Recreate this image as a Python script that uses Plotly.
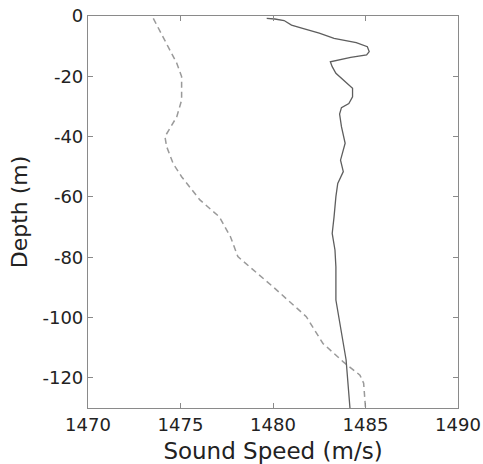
import plotly.graph_objects as go

# Measured profile (solid)
measured_speed = [1479.66, 1480.1, 1480.6, 1481.0, 1481.6, 1482.5, 1483.3, 1484.5, 1485.1, 1485.2,
                  1485.06, 1484.2, 1483.1, 1483.2, 1483.4, 1483.8, 1484.1, 1484.3, 1484.3, 1484.1,
                  1483.7, 1483.6, 1483.7, 1483.9, 1483.65, 1483.8, 1483.5, 1483.4, 1483.3, 1483.2,
                  1483.35, 1483.4, 1483.4, 1483.8, 1483.95, 1484.16]
measured_depth = [-0.8, -1.0, -1.5, -3.0, -4.1, -5.7, -7.4, -8.8, -10.2, -11.8,
                  -12.9, -13.7, -15.2, -16.8, -19.0, -21.2, -22.9, -24.0, -26.8, -29.0,
                  -30.4, -32.5, -36.7, -42.2, -47.8, -51.6, -55.5, -59.9, -66.6, -72.1,
                  -77.6, -83.2, -94.2, -109.7, -114.0, -130.0]

# Model profile (dashed)
model_speed = [1473.53, 1474.25, 1474.8, 1475.06, 1475.06, 1474.8, 1474.16, 1474.25, 1474.6, 1475.06,
               1476.05, 1477.1, 1477.7, 1478.1, 1478.76, 1480.0, 1481.8, 1482.7, 1483.8, 1484.7,
               1484.9, 1485.0]
model_depth = [-0.8, -9.1, -15.7, -20.1, -27.9, -33.4, -40.0, -43.3, -48.9, -53.3,
               -61.0, -66.6, -73.2, -79.8, -83.2, -89.8, -99.7, -108.6, -114.7, -119.1,
               -121.8, -130.0]

x_ticks = [1470, 1475, 1480, 1485, 1490]
y_ticks = [0, -20, -40, -60, -80, -100, -120]

FONT = "DejaVu Sans, Arial"

fig = go.Figure()
fig.add_trace(go.Scatter(x=model_speed, y=model_depth, mode="lines",
                         line=dict(color="#9a9a9a", width=1.5, dash="6px,4px"),
                         showlegend=False))
fig.add_trace(go.Scatter(x=measured_speed, y=measured_depth, mode="lines",
                         line=dict(color="#5e5e5e", width=1.3),
                         showlegend=False))

axis_common = dict(showgrid=False, zeroline=False, showline=True, linecolor="#8a8a8a",
                   linewidth=1.2, mirror="ticks", ticks="inside", ticklen=5,
                   tickcolor="#8a8a8a", tickwidth=1, automargin=False,
                   tickfont=dict(family=FONT, size=18, color="#222"))

fig.update_xaxes(range=[1470, 1490], tickvals=x_ticks, ticktext=[str(v) for v in x_ticks],
                 title=dict(text="Sound Speed (m/s)", standoff=12,
                            font=dict(family=FONT, size=23, color="#222")),
                 **axis_common)
fig.update_yaxes(range=[-130, 0], tickvals=y_ticks, ticktext=[str(v) for v in y_ticks],
                 title=dict(text="Depth (m)", standoff=8,
                            font=dict(family=FONT, size=22, color="#222")),
                 **axis_common)

fig.update_layout(width=483, height=464, autosize=False,
                  margin=dict(l=88, r=25, t=16, b=56),
                  paper_bgcolor="white", plot_bgcolor="white")

fig.write_html("out.html")
